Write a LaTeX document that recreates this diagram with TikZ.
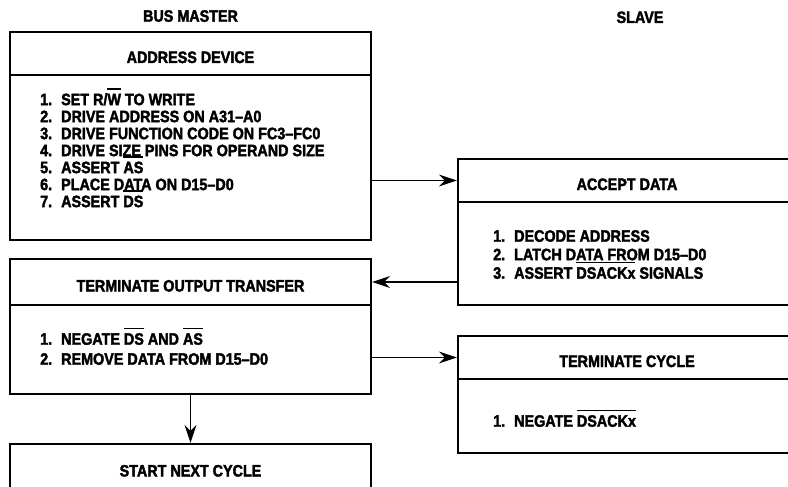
\documentclass[tikz,border=0pt]{standalone}
\usepackage{fontspec}
\setmainfont{Liberation Sans}[FakeStretch=0.87, BoldFeatures={FakeBold=2.2}]
\usetikzlibrary{arrows.meta, positioning}

% bar over an active-low signal, and one numbered step
\newcommand{\nbar}[1]{\setbox0=\hbox{#1}\rlap{\smash{\rule[15.5pt]{\wd0}{1.2pt}}}\box0\relax}
\newcommand{\stp}[2]{\makebox[21pt][l]{#1}#2}

\tikzset{
  box/.style={rectangle, draw, line width=2.2pt, inner sep=0pt},
  head/.style={box, minimum height=43pt, text height=19pt, text depth=0pt,
               font=\fontsize{16.5}{17}\selectfont\bfseries},
  master/.style={minimum width=361pt},
  slave/.style={minimum width=338pt},
  steps/.style={anchor=north west, inner sep=0pt, align=left,
                font=\fontsize{16.5}{17}\selectfont\bfseries},
  title/.style={inner sep=0pt, text depth=0pt, font=\fontsize{16.5}{17}\selectfont\bfseries},
  flow/.style={-{Stealth[length=18pt, width=12pt, inset=6pt]}, line width=1.4pt}
}

\begin{document}
\begin{tikzpicture}[x=1pt, y=-1pt]
    \useasboundingbox (0,0) rectangle (788,487);
    \clip (0,0) rectangle (788,487);

    % Bus master
    \node[head, master] (addrhead) at (190.5,53.5) {ADDRESS DEVICE};
    \node[box, master, minimum height=165pt] (addrbody) at (190.5,157.5) {};
    \node[steps] (addrsteps) at (40,93) {%
        \stp{1.}{SET R/\nbar{W} TO WRITE}\\
        \stp{2.}{DRIVE ADDRESS ON A31--A0}\\
        \stp{3.}{DRIVE FUNCTION CODE ON FC3--FC0}\\
        \stp{4.}{DRIVE SIZE PINS FOR OPERAND SIZE}\\
        \stp{5.}{ASSERT \nbar{AS}}\\
        \stp{6.}{PLACE DATA ON D15--D0}\\
        \stp{7.}{ASSERT \nbar{DS}}};

    \node[head, master, minimum height=46pt] (outhead) at (190.5,282) {TERMINATE OUTPUT TRANSFER};
    \node[box, master, minimum height=89pt] (outbody) at (190.5,349.5) {};
    \node[steps, font=\fontsize{16.5}{20}\selectfont\bfseries] (outsteps) at (40,333) {%
        \stp{1.}{NEGATE \nbar{DS} AND \nbar{AS}}\\
        \stp{2.}{REMOVE DATA FROM D15--D0}};

    \node[head, master, minimum height=46pt] (nexthead) at (190.5,467) {START NEXT CYCLE};

    % Slave
    \node[head, slave] (accepthead) at (627,180.5) {ACCEPT DATA};
    \node[box, slave, minimum height=103pt] (acceptbody) at (627,253.5) {};
    \node[steps, font=\fontsize{16.5}{18.5}\selectfont\bfseries] (acceptsteps) at (493,230) {%
        \stp{1.}{DECODE ADDRESS}\\
        \stp{2.}{LATCH DATA FROM D15--D0}\\
        \stp{3.}{ASSERT \nbar{DSACKx} SIGNALS}};

    \node[head, slave] (cychead) at (627,357.5) {TERMINATE CYCLE};
    \node[box, slave, minimum height=74pt] (cycbody) at (627,416) {};
    \node[steps] (cycsteps) at (493,415) {\stp{1.}{NEGATE \nbar{DSACKx}}};

    % Labels
    \node[title, above=9pt of addrhead] (mastertitle) {BUS MASTER};
    \node[title, anchor=base] (slavetitle) at (640,23) {SLAVE};

    % Arrows
    \draw[flow] (addrbody.east |- accepthead.west) -- (accepthead.west);
    \draw[flow] (acceptbody.west |- outhead.east) -- (outhead.east);
    \draw[flow] (outbody.east |- cychead.west) -- (cychead.west);
    \draw[flow] (outbody.south) -- (nexthead.north);
\end{tikzpicture}
\end{document}
